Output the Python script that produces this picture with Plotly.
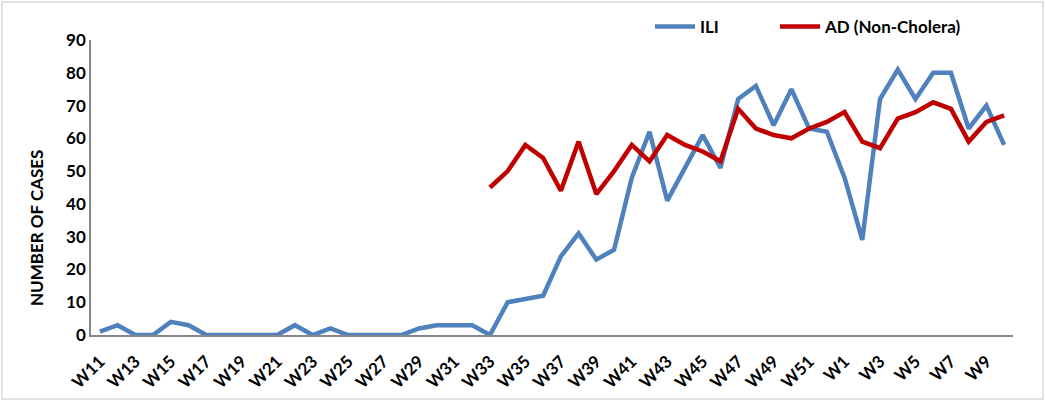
import plotly.graph_objects as go

weeks = [f"W{i}" for i in range(11, 53)] + [f"W{i}" for i in range(1, 11)]

ili = [1, 3, 0, 0, 4, 3, 0, 0, 0, 0, 0, 3, 0, 2, 0, 0, 0, 0, 2, 3, 3, 3, 0,
       10, 11, 12, 24, 31, 23, 26, 48, 62, 41, 51, 61, 51, 72, 76, 64, 75, 63, 62,
       48, 29, 72, 81, 72, 80, 80, 63, 70, 58]

ad = [None] * 22 + [45, 50, 58, 54, 44, 59, 43, 50, 58, 53, 61, 58, 56, 53,
                    69, 63, 61, 60, 63, 65, 68, 59, 57, 66, 68, 71, 69, 59, 65, 67]

tick_labels = weeks[::2]
y_title = "NUMBER OF CASES"

W, H = 1045, 402
L, R, T, B = 91, 32, 40, 67
pw, ph = W - L - R, H - T - B

fig = go.Figure()
fig.add_trace(go.Scatter(x=weeks, y=ili, name="ILI", mode="lines",
                         line=dict(color="#4F81BD", width=4.5), legend="legend"))
fig.add_trace(go.Scatter(x=weeks, y=ad, name="AD (Non-Cholera)", mode="lines",
                         line=dict(color="#C00000", width=4.5), legend="legend2"))

font_family = "Lato, Carlito, 'Open Sans', sans-serif"
fs = 17

legend_common = dict(orientation="h", xanchor="left", yanchor="middle",
                     y=(T + ph - 27) / ph,
                     font=dict(size=fs, family=font_family, weight="bold"),
                     bgcolor="rgba(0,0,0,0)", itemwidth=40)

fig.update_layout(
    width=W, height=H,
    margin=dict(l=L, r=R, t=T, b=B, autoexpand=False),
    paper_bgcolor="white", plot_bgcolor="white",
    font=dict(family=font_family, size=fs, color="black"),
    showlegend=True,
    legend=dict(x=(650 - L) / pw, **legend_common),
    legend2=dict(x=(775 - L) / pw, **legend_common),
    xaxis=dict(type="category", categoryorder="array", categoryarray=weeks,
               tickmode="array", tickvals=tick_labels, ticktext=tick_labels,
               tickangle=-45, showgrid=False, showline=True, linecolor="#868686",
               linewidth=1.5, ticks="", zeroline=False, automargin=False,
               ticklabelstandoff=8,
               tickfont=dict(size=fs, family=font_family, weight="bold"),
               range=[-0.5, len(weeks) - 0.5]),
    yaxis=dict(range=[0, 90], dtick=10, showgrid=False, showline=True,
               linecolor="#868686", linewidth=1.5, ticks="", zeroline=False,
               automargin=False,
               tickfont=dict(size=fs, family=font_family, weight="bold")),
)

# y-axis title (placed as in the reference, below the axis midpoint)
fig.add_annotation(text=y_title, textangle=-90, showarrow=False,
                   xref="paper", yref="paper",
                   x=(37 - L) / pw, y=(T + ph - 228) / ph,
                   xanchor="center", yanchor="middle",
                   font=dict(size=fs, family=font_family, weight="bold", color="black"))

# outer chart border
fig.add_shape(type="rect", xref="paper", yref="paper",
              x0=(2 - L) / pw, x1=(1043 - L) / pw,
              y0=(T + ph - 399) / ph, y1=(T + ph - 2) / ph,
              line=dict(color="#D9D9D9", width=1.5), fillcolor="rgba(0,0,0,0)",
              layer="below")

fig.write_html("out.html", config={"displayModeBar": False},
               post_script="document.body.style.margin='0';")
